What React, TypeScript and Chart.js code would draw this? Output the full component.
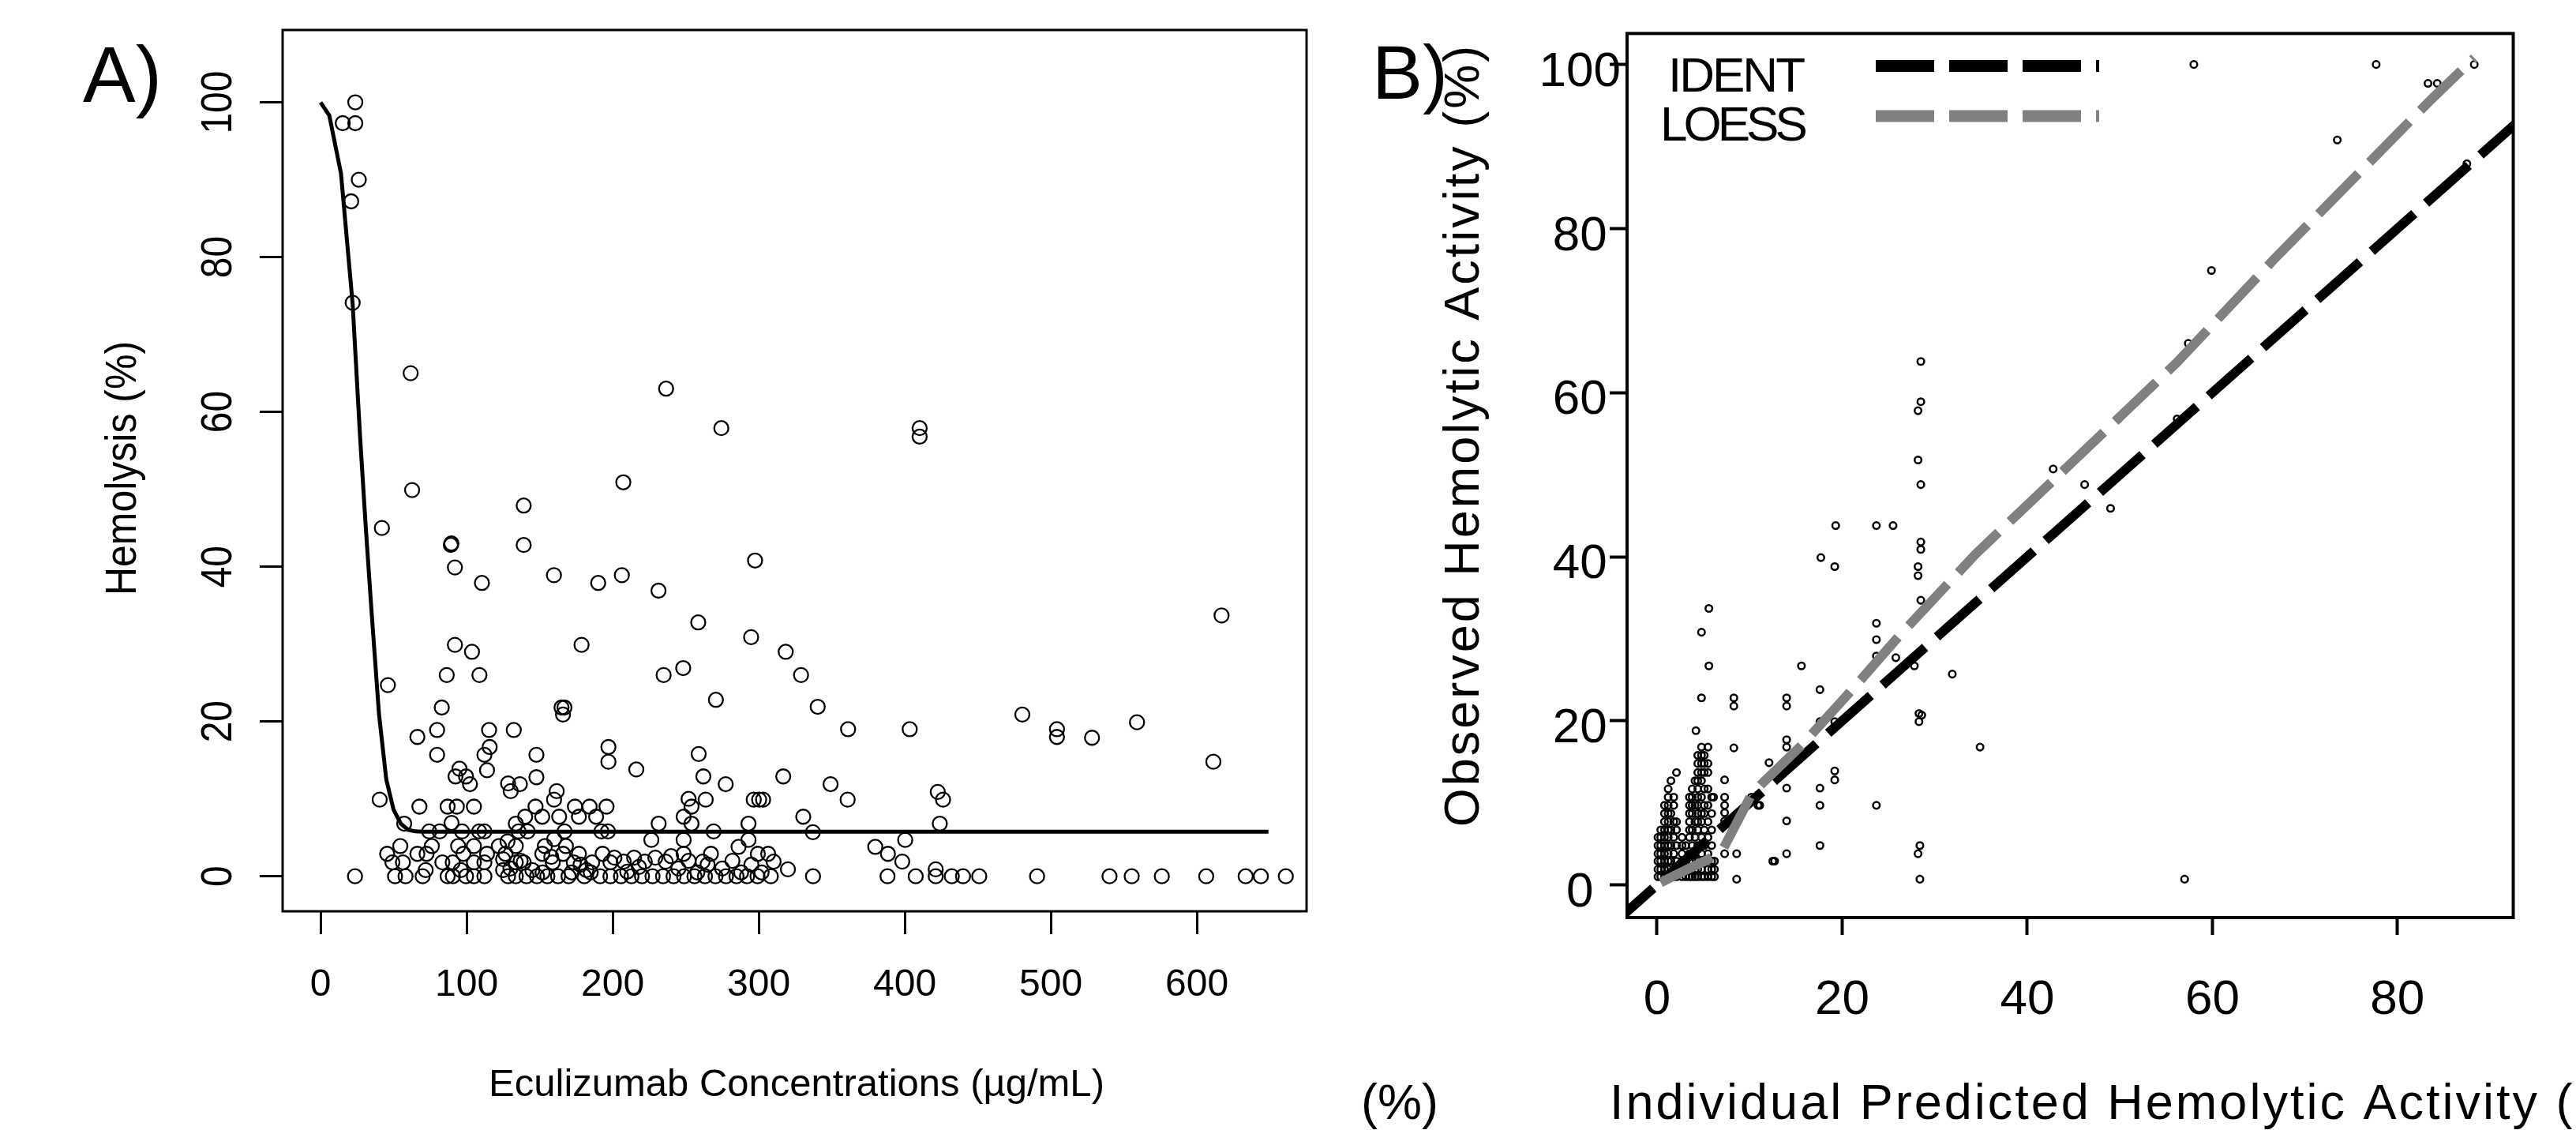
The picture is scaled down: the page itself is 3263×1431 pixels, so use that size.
import React, { useEffect, useRef } from "react";
import { Chart, registerables } from "chart.js";

Chart.register(...registerables);

const FONT = '"Liberation Sans", Arial, Helvetica, sans-serif';

// ---------------- Panel A data ----------------
const aXTicks = [0, 100, 200, 300, 400, 500, 600];
const aYTicks = [0, 20, 40, 60, 80, 100];

const aConc = [
  23.8, 15.2, 23.8, 26.2, 21, 22, 23.6,
  61.7, 236.6, 274.4, 410.2, 410.2, 62.7, 139.1, 207.3,
  42, 89.2, 89.6, 139.1, 92, 110.5, 159.8, 190.1, 206.3, 231.4,
  297.5, 258.6, 294.8, 178.7, 92, 103.7, 318.5, 329, 86.4, 108.8,
  234.9, 248.3, 270.7, 46.1, 83, 165, 167, 166, 340.4, 361.2,
  403.4, 480.5, 504.2, 504.2, 528.2, 559, 611.3, 616.9, 66.3,
  79.8, 79.8, 115.4, 132.3, 115.8, 112.2, 114, 95.1, 92.4, 99.6,
  102.3, 128.4, 130.2, 136.5, 147.8, 147.8, 161.7, 159.9, 197.1, 197.1,
  216.2, 258.9, 262.1, 277.4, 316.8, 349.2, 360.9, 422.6, 426.2, 40.5,
  252, 254, 263.7, 296.6, 300.3, 303, 67.7, 87, 93.3, 105,
  147.2, 174.2, 184.2, 195.8, 140.1, 151.8, 163.4, 176.9, 188.7, 248.6,
  330.5, 57.3, 89.7, 133.7, 254, 231.5, 293, 424, 74.4, 81.6,
  96.9, 108.6, 112.2, 135.6, 141.8, 167.1, 192.3, 196.8, 269.1, 337.1,
  226.5, 248.6, 293, 400.3, 128, 160, 54.6, 76.2, 94.2, 105,
  122.1, 133.7, 153.6, 168, 286.2, 379.8, 45.6, 66.3, 72.6, 97.8,
  114, 126.6, 151.8, 166.1, 176.9, 193.1, 248.6, 267.3, 299.4, 306.5,
  388.5, 201.2, 214.7, 229.2, 49.2, 56.4, 83.4, 90.5, 105, 112.2,
  133.7, 139.1, 159, 173.4, 186, 198.5, 207.6, 222, 236.3, 261.6,
  310.2, 398.3, 72, 96, 125, 145, 182, 320, 421.2,
  130, 137, 152, 158, 172, 178, 185, 245, 252, 258,
  265, 275, 282, 288, 295, 302, 210, 218, 240, 125,
  51, 58.2, 69.9, 87, 90.6, 99.6, 105, 112.2, 128.4, 133.7,
  141, 148.2, 155.3, 162.6, 169.8, 180.6, 191.4, 198.5, 205.7, 212.9,
  220.1, 227.3, 234.5, 241.7, 248.9, 256, 263.2, 270.4, 277.6, 284.8,
  292, 299.2, 308.3, 337.2, 388.2, 407.5, 421.2, 432.2, 439.9, 451,
  490.6, 540.2, 555.4, 576, 606.4, 633.4, 643.8, 660.9,
];

const aHemo = [
  100, 97.3, 97.3, 90, 87.2, 74.1, 0,
  65, 63, 57.9, 57.9, 56.8, 49.9, 47.9, 50.9,
  45, 42.8, 43, 42.8, 39.9, 37.9, 38.9, 37.9, 38.9, 36.9,
  40.8, 32.8, 30.9, 29.9, 29.9, 29, 29, 26, 26, 26,
  26, 26.9, 22.8, 24.7, 21.8, 21.8, 21.8, 20.9, 21.9, 19,
  19, 20.9, 19, 18, 17.9, 19.9, 14.8, 33.7, 18,
  18.9, 15.7, 18.9, 18.9, 16.7, 15.7, 13.7, 13.9, 12.9, 12.9,
  11.9, 12, 11, 11.9, 15.7, 12.8, 11, 9.9, 16.7, 14.8,
  13.8, 15.8, 12.9, 11.9, 12.9, 11.9, 9.9, 10.9, 9.9, 9.9,
  10, 9, 9.9, 9.9, 9.9, 9.9, 9, 9, 9, 9,
  9, 9, 9, 9, 7.7, 7.7, 7.7, 7.7, 7.7, 7.7,
  7.7, 6.8, 6.9, 6.8, 6.8, 6.8, 6.8, 6.8, 5.8, 5.8,
  5.8, 5.8, 5.8, 5.8, 5.8, 5.8, 5.8, 5.8, 5.8, 5.7,
  4.7, 4.7, 4.7, 4.7, 4.5, 4.8, 3.9, 3.9, 3.9, 3.9,
  3.9, 3.9, 3.9, 3.9, 3.8, 3.8, 2.9, 2.9, 2.9, 2.9,
  2.9, 2.9, 2.9, 2.9, 2.9, 2.9, 2.9, 2.9, 2.9, 2.9,
  2.9, 2.4, 2.4, 2.4, 1.8, 1.8, 1.8, 1.8, 1.8, 1.8,
  1.8, 1.8, 1.8, 1.8, 1.8, 1.8, 1.9, 1.9, 1.9, 1.9,
  1.9, 1.9, 0.8, 0.8, 0.8, 0.8, 0.8, 0.9, 0.9,
  1, 2, 0.5, 2.5, 0.5, 1.5, 0.5, 1, 2, 0.5,
  1.5, 1, 2, 0.5, 1.5, 0.5, 0.6, 1.2, 2.6, 2.2,
  0, 0, 0, 0, 0, 0, 0, 0, 0, 0,
  0, 0, 0, 0, 0, 0, 0, 0, 0, 0,
  0, 0, 0, 0, 0, 0, 0, 0, 0, 0,
  0, 0, 0, 0, 0, 0, 0, 0, 0, 0,
  0, 0, 0, 0, 0, 0, 0, 0,
];

const aCurveConc = [0, 6, 14, 22, 27, 31, 35, 40, 45, 50, 55, 60, 65, 70, 649];
const aCurveHemo = [100, 98.3, 90.8, 73.9, 57, 45, 34, 21, 12.5, 8.6, 6.8, 6.0, 5.8, 5.75, 5.75];

// ---------------- Panel B data ----------------
const bXTicks = [0, 20, 40, 60, 80];
const bYTicks = [0, 20, 40, 60, 80, 100];

const bPred = [
  58, 77.7, 88.3, 83.3, 84.3, 73.5, 59.9, 57.4, 56.2, 42.8,
  46.2, 49, 87.5, 31.9, 34.9, 57, 28.5, 28.5, 28.2, 28.2,
  28.5, 28.5, 28.5, 28.2, 28.2, 28.5, 28.3, 28.3, 28.6, 28.4,
  28.2, 28.4, 27.8, 19.3, 23.7, 25.5, 23.7, 23.7, 23.7, 25.8,
  23.7, 17.7, 19.2, 15.6, 17.6, 17.6, 19.2, 19.2, 19.2, 17.6,
  17.6, 17.6, 14, 14, 14, 14, 14, 14, 14, 14,
  12.5, 12.7, 12.1, 10.9, 10.2, 11.1, 8.3, 8.3, 8.3, 7.3,
  7.3, 7.3, 7.3, 7.3, 7.3, 8.6, 8.6, 6.1, 4.8, 4.8,
  5.6, 5.6, 4.2,
  0.1, 0.1, 0.1, 0.1, 0.1, 0.1,
  0.4, 0.4, 0.4, 0.4, 0.4, 0.4, 0.4,
  0.8, 0.8, 0.8, 0.8, 0.8, 0.8, 0.8, 0.8, 0.8, 0.8,
  1.2, 1.2, 1.2, 1.2, 1.2, 1.2, 1.2, 1.2, 1.2, 1.2, 1.2, 1.2,
  1.5, 1.5, 1.5, 1.5, 1.5, 1.5,
  1.8, 1.8, 1.8, 1.8, 1.8, 1.8, 1.8,
  2.1, 2.1, 2.1, 2.1, 2.1, 2.1,
  2.7, 2.7, 2.7, 2.7, 2.7, 2.7,
  3.1, 3.1, 3.1, 3.1,
  3.5, 3.5, 3.5, 3.5, 3.5, 3.5, 3.5, 3.5, 3.5, 3.5,
  3.8, 3.8, 3.8, 3.8, 3.8, 3.8, 3.8, 3.8,
  4.1, 4.1, 4.1, 4.1, 4.1, 4.1, 4.1,
  4.4, 4.4, 4.4, 4.4, 4.4, 4.4, 4.4, 4.4, 4.4, 4.4, 4.4, 4.4, 4.4, 4.4,
  4.8, 4.8, 4.8, 4.8, 4.8, 4.8, 4.8, 4.8, 4.8, 4.8, 4.8, 4.8,
  5.1, 5.1, 5.1, 5.1, 5.1, 5.1, 5.1, 5.1, 5.1, 5.1,
  5.5, 5.5, 5.5, 5.5, 5.5, 5.5, 5.5, 5.5, 5.5, 5.5,
  5.9, 5.9, 5.9, 5.9, 5.9, 5.9, 5.9,
  6.2, 6.2, 6.2,
];

const bObs = [
  100, 100, 100, 97.7, 97.7, 90.8, 74.9, 66, 56.8, 50.7,
  48.8, 45.9, 87.9, 25.7, 16.8, 0.7, 63.8, 58.9, 57.8, 51.8,
  48.8, 41.8, 40.9, 38.8, 37.7, 34.7, 20.9, 19.9, 20.7, 4.8,
  3.8, 0.7, 26.7, 43.8, 43.8, 43.8, 31.9, 29.9, 27.9, 27.7,
  9.7, 39.9, 38.8, 26.7, 23.8, 19.9, 19.9, 13.9, 12.8, 11.8,
  9.7, 4.8, 22.8, 21.8, 17.7, 16.8, 14.9, 11.8, 7.8, 3.8,
  2.9, 2.9, 14.9, 9.7, 10.7, 9.7, 22.8, 21.8, 16.7, 12.8,
  10.7, 9.7, 8.8, 7.8, 3.8, 3.8, 0.7, 10.7, 30.8, 22.8,
  33.7, 26.7, 18.8,
  1, 1.9, 2.9, 3.8, 4.8, 5.8,
  1, 1.9, 2.9, 3.8, 4.8, 5.8, 6.7,
  1, 1.9, 2.9, 3.8, 4.8, 5.8, 6.7, 7.7, 8.7, 9.7,
  1, 1.9, 2.9, 3.8, 4.8, 5.8, 6.7, 7.7, 8.7, 9.7, 10.7, 11.7,
  1, 2.9, 4.8, 6.7, 8.7, 12.7,
  1, 1.9, 3.8, 5.8, 7.7, 9.7, 10.7,
  1, 2.9, 4.8, 6.7, 7.7, 13.7,
  1, 1.9, 2.9, 3.8, 4.8, 5.8,
  1, 1.9, 2.9, 4.8,
  1, 1.9, 2.9, 3.8, 5.8, 6.7, 7.7, 8.7, 9.7, 10.7,
  1, 2.9, 4.8, 6.7, 8.7, 9.7, 10.7, 11.7,
  1, 1.9, 3.8, 5.8, 7.7, 9.7, 12.7,
  1, 1.9, 2.9, 4.8, 6.7, 7.7, 8.7, 9.7, 10.7, 11.7, 12.7, 13.7, 14.8, 15.8,
  1, 1.9, 3.8, 5.8, 7.7, 8.7, 10.7, 12.7, 13.7, 14.8, 15.8, 16.8,
  1, 2.9, 4.8, 6.7, 8.7, 9.7, 11.7, 13.7, 14.8, 15.8,
  1, 1.9, 3.8, 5.8, 7.7, 9.7, 11.7, 13.7, 14.8, 16.8,
  1, 1.9, 2.9, 4.8, 6.7, 8.7, 10.7,
  1, 1.9, 2.9,
];

const identX = [-5, 100];
const loessX = [0.4, 2, 4, 5.5, 7.1, 10.1, 11.2, 15.6, 21, 26.2, 34.4, 44.1, 56.1, 66.7, 83.7, 88.3];
const loessY = [0.3, 1.2, 2.3, 3.1, 4.3, 10.8, 12.2, 17, 23.7, 30.4, 40.3, 50.7, 63.6, 76.3, 95.8, 100.8];

const legendLabels = ["IDENT", "LOESS"];
const legendColors = ["#000000", "#808080"];

// ---------------- layout constants ----------------
const W = 3263;
const H = 1431;
const A_W = 1700;
const B_LEFT = 1700;
const B_W = W - B_LEFT;

const fixedTicks = (arr: number[]) => (scale: any) => {
  scale.ticks = arr.map((v) => ({ value: v }));
};

function makeA(canvas: HTMLCanvasElement) {
  const decoA = {
    id: "decoA",
    afterDraw(chart: any) {
      const { ctx, chartArea: ca, scales } = chart;
      ctx.save();
      ctx.strokeStyle = "#000";
      ctx.lineWidth = 3;
      ctx.strokeRect(ca.left, ca.top, ca.right - ca.left, ca.bottom - ca.top);
      ctx.fillStyle = "#000";
      ctx.textBaseline = "alphabetic";
      ctx.textAlign = "center";
      ctx.font = `48px ${FONT}`;
      for (const v of aYTicks) {
        const py = scales.y.getPixelForValue(v);
        ctx.save();
        ctx.translate(293, py);
        ctx.rotate(-Math.PI / 2);
        ctx.scale(1, 1.15);
        ctx.fillText(String(v), 0, 0);
        ctx.restore();
      }
      ctx.font = `50px ${FONT}`;
      ctx.save();
      ctx.translate(172, 593);
      ctx.rotate(-Math.PI / 2);
      ctx.scale(1, 1.12);
      ctx.fillText("Hemolysis (%)", 0, 0);
      ctx.restore();
      ctx.font = `49px ${FONT}`;
      ctx.fillText("Eculizumab Concentrations (\u00b5g/mL)", 1009, 1388);
      ctx.textAlign = "left";
      ctx.font = `100px ${FONT}`;
      ctx.fillText("A)", 105, 129);
      ctx.restore();
    },
  };

  return new Chart(canvas, {
    type: "scatter",
    data: {
      datasets: [
        {
          data: aCurveConc.map((x, i) => ({ x, y: aCurveHemo[i] })),
          showLine: true,
          borderColor: "#000",
          borderWidth: 5,
          pointRadius: 0,
          fill: false,
          tension: 0,
        } as any,
        {
          data: aConc.map((x, i) => ({ x, y: aHemo[i] })),
          showLine: false,
          pointStyle: "circle",
          pointRadius: 9,
          pointBorderWidth: 2.3,
          pointBorderColor: "#000",
          pointBackgroundColor: "rgba(0,0,0,0)",
          borderColor: "#000",
          backgroundColor: "rgba(0,0,0,0)",
        } as any,
      ],
    },
    options: {
      responsive: false,
      animation: false,
      devicePixelRatio: 1,
      events: [],
      layout: { padding: { left: 318, top: 38, right: A_W - 1655, bottom: H - 1154 - 120 } },
      plugins: { legend: { display: false }, tooltip: { enabled: false } },
      scales: {
        x: {
          type: "linear",
          bounds: "data",
          min: -25.96,
          max: 675.1,
          afterBuildTicks: fixedTicks(aXTicks),
          afterFit: (s: any) => {
            s.height = 120;
          },
          ticks: {
            color: "#000",
            font: { family: FONT, size: 48 },
            padding: 36,
            maxRotation: 0,
            minRotation: 0,
            autoSkip: false,
          },
          grid: {
            display: true,
            drawOnChartArea: false,
            drawTicks: true,
            tickLength: 29,
            tickWidth: 3,
            tickColor: "#000",
          },
          border: { display: false },
        },
        y: {
          type: "linear",
          bounds: "data",
          min: -4.52,
          max: 109.34,
          afterBuildTicks: fixedTicks(aYTicks),
          afterFit: (s: any) => {
            s.width = 40;
          },
          ticks: { display: false },
          grid: {
            display: true,
            drawOnChartArea: false,
            drawTicks: true,
            tickLength: 29,
            tickWidth: 3,
            tickColor: "#000",
          },
          border: { display: false },
        },
      },
    } as any,
    plugins: [decoA],
  });
}

function makeB(canvas: HTMLCanvasElement) {
  const ox = -B_LEFT;
  const decoB = {
    id: "decoB",
    afterDraw(chart: any) {
      const { ctx, chartArea: ca } = chart;
      ctx.save();
      ctx.strokeStyle = "#000";
      ctx.lineWidth = 4;
      ctx.strokeRect(ca.left, ca.top, ca.right - ca.left, ca.bottom - ca.top);

      // legend
      ctx.fillStyle = "#000";
      ctx.textBaseline = "alphabetic";
      ctx.textAlign = "left";
      ctx.font = `62px ${FONT}`;
      ctx.letterSpacing = "-3px";
      ctx.fillText(legendLabels[0], 2113 + ox, 116);
      ctx.letterSpacing = "-5px";
      ctx.fillText(legendLabels[1], 2103 + ox, 178);
      ctx.letterSpacing = "0px";
      const ly = [83.5, 147];
      ctx.lineWidth = 15;
      ctx.lineCap = "butt";
      ctx.setLineDash([74, 19]);
      for (let i = 0; i < 2; i++) {
        ctx.strokeStyle = legendColors[i];
        ctx.beginPath();
        ctx.moveTo(2376 + ox, ly[i]);
        ctx.lineTo(2659 + ox, ly[i]);
        ctx.stroke();
      }
      ctx.setLineDash([]);

      // titles
      ctx.fillStyle = "#000";
      ctx.font = `63px ${FONT}`;
      ctx.letterSpacing = "3px";
      ctx.textAlign = "left";
      ctx.fillText("Individual Predicted Hemolytic Activity (%)", 2039 + ox, 1417);
      ctx.save();
      ctx.translate(1873 + ox, 551);
      ctx.rotate(-Math.PI / 2);
      ctx.textAlign = "center";
      ctx.fillText("Observed Hemolytic Activity (%)", 0, 0);
      ctx.restore();
      ctx.letterSpacing = "0px";
      ctx.textAlign = "right";
      ctx.fillText("(%)", 1822 + ox, 1417);
      ctx.textAlign = "left";
      ctx.font = `96px ${FONT}`;
      ctx.fillText("B)", 1738 + ox, 125);
      ctx.restore();
    },
  };

  return new Chart(canvas, {
    type: "scatter",
    data: {
      datasets: [
        {
          data: loessX.map((x, i) => ({ x, y: loessY[i] })),
          showLine: true,
          borderColor: "#808080",
          borderWidth: 12,
          borderDash: [72, 20],
          borderCapStyle: "butt",
          pointRadius: 0,
          fill: false,
          tension: 0,
        } as any,
        {
          data: identX.map((x) => ({ x, y: x })),
          showLine: true,
          borderColor: "#000",
          borderWidth: 12,
          borderDash: [72, 20],
          borderCapStyle: "butt",
          pointRadius: 0,
          fill: false,
          tension: 0,
        } as any,
        {
          data: bPred.map((x, i) => ({ x, y: bObs[i] })),
          showLine: false,
          pointStyle: "circle",
          pointRadius: 4.3,
          pointBorderWidth: 2.5,
          pointBorderColor: "#000",
          pointBackgroundColor: "rgba(0,0,0,0)",
          borderColor: "#000",
          backgroundColor: "rgba(0,0,0,0)",
        } as any,
      ],
    },
    options: {
      responsive: false,
      animation: false,
      devicePixelRatio: 1,
      events: [],
      layout: { padding: { left: 211, top: 42.4, right: B_W - (3183.5 - B_LEFT), bottom: H - 1162 - 150 } },
      plugins: { legend: { display: false }, tooltip: { enabled: false } },
      scales: {
        x: {
          type: "linear",
          bounds: "data",
          min: -3.24,
          max: 92.51,
          afterBuildTicks: fixedTicks(bXTicks),
          afterFit: (s: any) => {
            s.height = 150;
          },
          ticks: {
            color: "#000",
            font: { family: FONT, size: 62 },
            padding: 46,
            maxRotation: 0,
            minRotation: 0,
            autoSkip: false,
          },
          grid: {
            display: true,
            drawOnChartArea: false,
            drawTicks: true,
            tickLength: 22,
            tickWidth: 4,
            tickColor: "#000",
          },
          border: { display: false },
        },
        y: {
          type: "linear",
          bounds: "data",
          min: -3.98,
          max: 103.78,
          afterBuildTicks: fixedTicks(bYTicks),
          afterFit: (s: any) => {
            s.width = 150;
          },
          ticks: {
            color: "#000",
            font: { family: FONT, size: 62 },
            crossAlign: "center",
            padding: -14,
            labelOffset: 10,
            autoSkip: false,
          },
          grid: {
            display: true,
            drawOnChartArea: false,
            drawTicks: true,
            tickLength: 22,
            tickWidth: 4,
            tickColor: "#000",
          },
          border: { display: false },
        },
      },
    } as any,
    plugins: [decoB],
  });
}

export default function App() {
  const aRef = useRef<HTMLCanvasElement>(null);
  const bRef = useRef<HTMLCanvasElement>(null);

  useEffect(() => {
    const ca = makeA(aRef.current as HTMLCanvasElement);
    const cb = makeB(bRef.current as HTMLCanvasElement);
    return () => {
      ca.destroy();
      cb.destroy();
    };
  }, []);

  return (
    <div
      style={{
        position: "absolute",
        left: 0,
        top: 0,
        width: W,
        height: H,
        background: "#ffffff",
        overflow: "hidden",
      }}
    >
      <canvas
        ref={aRef}
        width={A_W}
        height={H}
        style={{ position: "absolute", left: 0, top: 0, width: A_W, height: H }}
      />
      <canvas
        ref={bRef}
        width={B_W}
        height={H}
        style={{ position: "absolute", left: B_LEFT, top: 0, width: B_W, height: H }}
      />
    </div>
  );
}
